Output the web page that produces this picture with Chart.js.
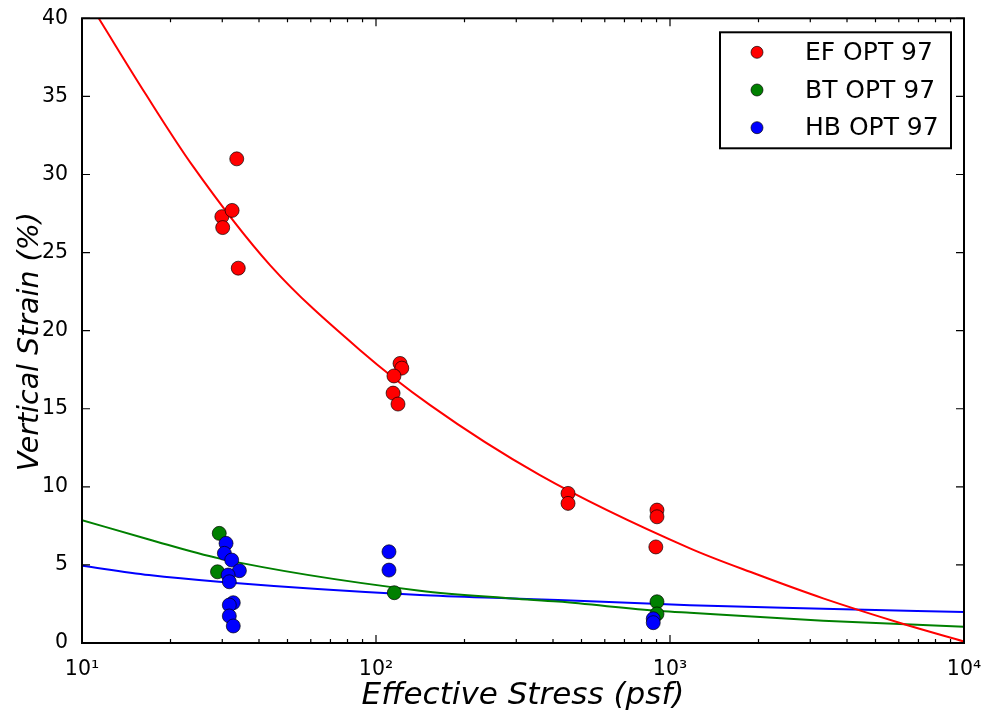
<!DOCTYPE html>
<html>
<head>
<meta charset="utf-8">
<script src="https://cdn.jsdelivr.net/npm/chart.js@4.4.1/dist/chart.umd.min.js"></script>
<style>
    html, body { margin: 0; padding: 0; background: #fff; }
    #wrap { width: 982px; height: 716px; position: relative; }
</style>
</head>
<body>
<div id="wrap"><canvas id="chart"></canvas></div>
<script>
/* Pontos medidos (tensão efetiva em psf, deformação vertical em %) */
const efStress = [33.6, 29.9, 30.1, 32.4, 34.0, 120.7, 122.4, 115.1, 114.3, 118.8, 450, 450, 903, 903, 895];
const efStrain = [31.0, 27.3, 26.6, 27.7, 24.0, 17.9, 17.6, 17.1, 16.0, 15.3, 9.58, 8.94, 8.51, 8.08, 6.15];

const btStress = [29.3, 28.9, 115.4, 903, 903];
const btStrain = [7.02, 4.56, 3.22, 2.64, 1.86];

const hbStress = [30.9, 30.5, 32.3, 34.3, 31.4, 31.7, 32.7, 31.7, 31.7, 32.7, 110.7, 110.7, 877, 877];
const hbStrain = [6.38, 5.74, 5.31, 4.63, 4.35, 3.92, 2.58, 2.43, 1.73, 1.09, 5.84, 4.67, 1.55, 1.3];

/* Curvas de ajuste */
const efFitX = [11.4, 16.4, 23.7, 43.6, 88.3, 152.8, 361, 1169, 1972, 3319, 6223, 10000];
const efFitY = [40, 35.2, 30.6, 24.2, 18.75, 15.23, 10.75, 6.06, 4.4, 2.86, 1.22, 0.1];

const btFitX = [10, 16.9, 29.2, 141, 292, 416, 925, 1169, 3319, 10000];
const btFitY = [7.87, 6.63, 5.42, 3.35, 2.85, 2.65, 2.05, 1.93, 1.43, 1.04];

const hbFitX = [10, 16.9, 29.2, 141, 292, 416, 925, 1169, 3319, 10000];
const hbFitY = [4.95, 4.35, 3.92, 3.07, 2.85, 2.75, 2.5, 2.42, 2.2, 1.98];

const seriesLabels = ['EF OPT 97', 'BT OPT 97', 'HB OPT 97'];
const seriesColors = ['#ff0000', '#008000', '#0000ff'];

const xMajorTicks  = [10, 100, 1000, 10000];
const xTickLabels  = ['10\u00B9', '10\u00B2', '10\u00B3', '10\u2074'];
const yTicks       = [0, 5, 10, 15, 20, 25, 30, 35, 40];
const yTitle       = 'Vertical Strain (%)';

const FONT = "'DejaVu Sans', 'Liberation Sans', sans-serif";

const toPts = (xs, ys) => xs.map((x, i) => ({ x, y: ys[i] }));

function pointSet(idx, xs, ys, order) {
    return {
        label: seriesLabels[idx],
        data: toPts(xs, ys),
        backgroundColor: seriesColors[idx],
        borderColor: 'rgba(0,0,0,0.85)',
        borderWidth: 0.8,
        pointRadius: 7,
        showLine: false,
        order
    };
}

function fitSet(idx, xs, ys) {
    return {
        label: seriesLabels[idx] + ' fit',
        isFit: true,
        data: toPts(xs, ys),
        borderColor: seriesColors[idx],
        borderWidth: 2,
        pointRadius: 0,
        showLine: true,
        cubicInterpolationMode: 'monotone',
        order: 10
    };
}

/* Moldura, marcas internas, título y e legenda */
const framePlugin = {
    id: 'frame',
    afterDraw(chart) {
        const { ctx, chartArea: a, scales } = chart;
        ctx.save();
        ctx.strokeStyle = '#000';
        ctx.lineWidth = 1.2;

        // marcas do eixo y (esquerda e direita)
        yTicks.forEach(v => {
            const y = scales.y.getPixelForValue(v);
            ctx.beginPath();
            ctx.moveTo(a.left, y); ctx.lineTo(a.left + 8, y);
            ctx.moveTo(a.right, y); ctx.lineTo(a.right - 8, y);
            ctx.stroke();
        });

        // marcas do eixo x log (maiores e menores)
        for (let d = 10; d <= 10000; d *= 10) {
            for (let m = 1; m <= 9; m++) {
                const v = d * m;
                if (v > 10000) break;
                const x = scales.x.getPixelForValue(v);
                const len = m === 1 ? 8 : 4;
                ctx.beginPath();
                ctx.moveTo(x, a.bottom); ctx.lineTo(x, a.bottom - len);
                ctx.moveTo(x, a.top); ctx.lineTo(x, a.top + len);
                ctx.stroke();
            }
        }

        // moldura
        ctx.lineWidth = 2;
        ctx.strokeRect(a.left, a.top, a.right - a.left, a.bottom - a.top);

        // título do eixo y (um pouco abaixo do centro, como no original)
        ctx.save();
        ctx.translate(31, (a.top + a.bottom) / 2 + 11);
        ctx.rotate(-Math.PI / 2);
        ctx.font = 'italic 28.5px ' + FONT;
        ctx.fillStyle = '#000';
        ctx.textAlign = 'center';
        ctx.textBaseline = 'middle';
        ctx.fillText(yTitle, 0, 0);
        ctx.restore();

        // legenda
        const bx = a.right - 244, by = a.top + 14, bw = 231, bh = 116;
        ctx.fillStyle = '#fff';
        ctx.fillRect(bx, by, bw, bh);
        ctx.strokeRect(bx, by, bw, bh);
        ctx.font = '25px ' + FONT;
        ctx.textBaseline = 'middle';
        ctx.textAlign = 'left';
        chart.data.datasets.filter(ds => !ds.isFit).forEach((ds, i) => {
            const cy = by + 20 + i * 37.7;
            ctx.beginPath();
            ctx.arc(bx + 37, cy, 6, 0, Math.PI * 2);
            ctx.fillStyle = ds.backgroundColor;
            ctx.fill();
            ctx.lineWidth = 0.8;
            ctx.strokeStyle = 'rgba(0,0,0,0.85)';
            ctx.stroke();
            ctx.fillStyle = '#000';
            ctx.fillText(ds.label, bx + 85, cy + 1);
        });
        ctx.restore();
    }
};

document.addEventListener('DOMContentLoaded', () => {
    const ctx = document.getElementById('chart').getContext('2d');

    // ordem: EF, BT, HB (HB fica por cima)
    const datasets = [
        pointSet(0, efStress, efStrain, 3),
        pointSet(1, btStress, btStrain, 2),
        pointSet(2, hbStress, hbStrain, 1),
        fitSet(0, efFitX, efFitY),
        fitSet(1, btFitX, btFitY),
        fitSet(2, hbFitX, hbFitY)
    ];

    new Chart(ctx, {
        type: 'scatter',
        data: { datasets },
        options: {
            responsive: true,
            maintainAspectRatio: false,
            animation: false,
            layout: { padding: { top: 18, right: 18, left: 0, bottom: 0 } },
            plugins: {
                legend: { display: false },
                tooltip: { enabled: false }
            },
            scales: {
                x: {
                    type: 'logarithmic',
                    min: 10,
                    max: 10000,
                    afterBuildTicks: s => { s.ticks = xMajorTicks.map(v => ({ value: v })); },
                    afterFit: s => { s.height = 73; s.paddingLeft = 0; s.paddingRight = 0; },
                    grid: { display: false },
                    border: { display: false },
                    ticks: {
                        color: '#000',
                        padding: 6,
                        maxRotation: 0,
                        font: { family: FONT, size: 20.5 },
                        callback: (v) => {
                            const i = xMajorTicks.indexOf(v);
                            return i >= 0 ? xTickLabels[i] : '';
                        }
                    },
                    title: {
                        display: true,
                        text: 'Effective Stress (psf)',
                        color: '#000',
                        font: { family: FONT, size: 31, style: 'italic' },
                        padding: { top: 0, bottom: 1 }
                    }
                },
                y: {
                    min: 0,
                    max: 40,
                    afterBuildTicks: s => { s.ticks = yTicks.map(v => ({ value: v })); },
                    afterFit: s => { s.width = 82; },
                    grid: { display: false },
                    border: { display: false },
                    ticks: {
                        color: '#000',
                        padding: 6,
                        font: { family: FONT, size: 20.5 }
                    },
                    title: { display: false }
                }
            }
        },
        plugins: [framePlugin]
    });
});
</script>
</body>
</html>
